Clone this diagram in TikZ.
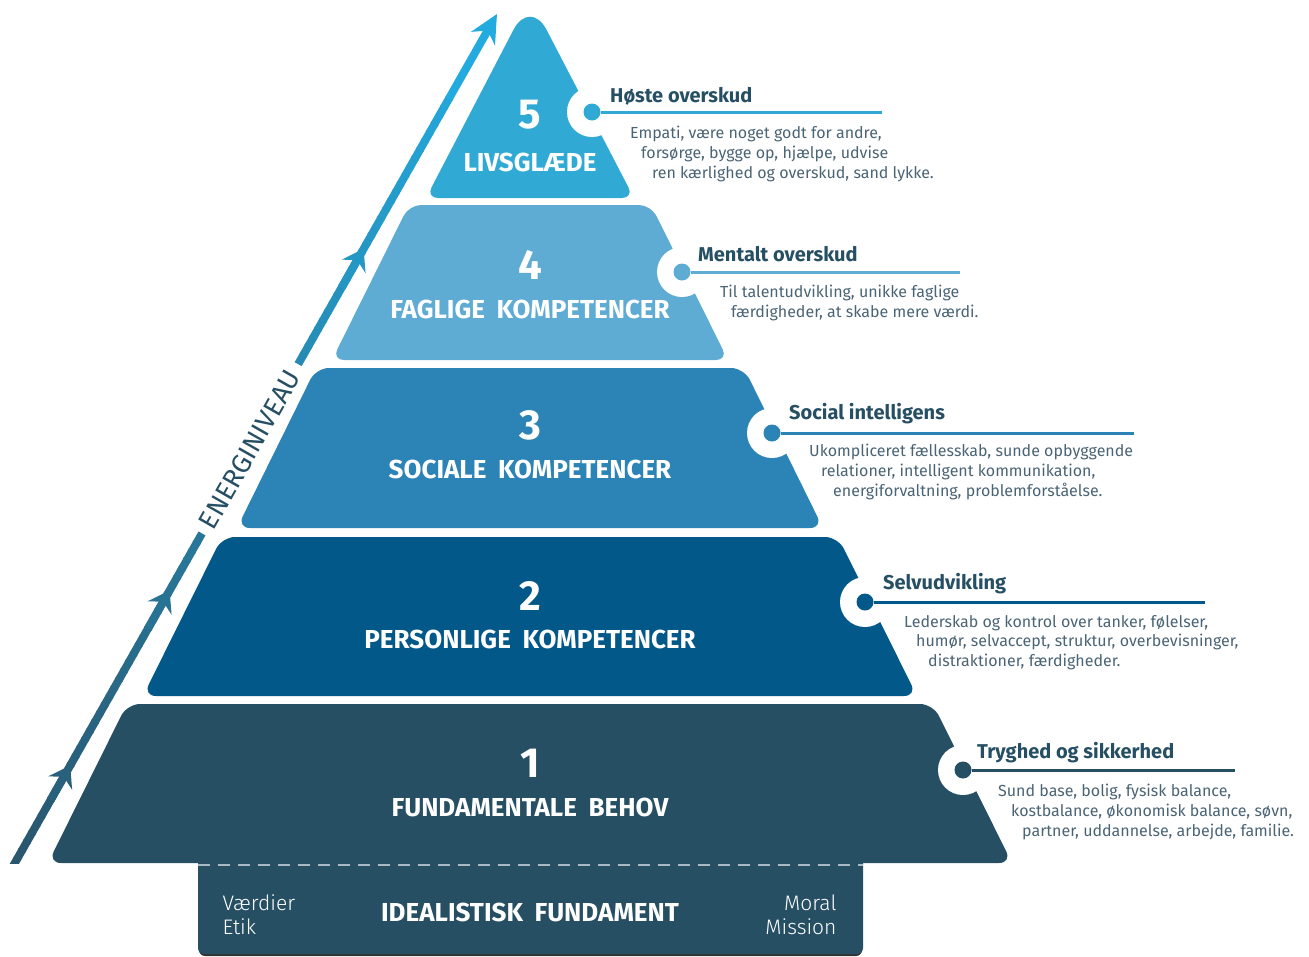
\documentclass[tikz,border=0pt]{standalone}
\usepackage{fontspec}
\setmainfont[FakeStretch=1.0]{Fira Sans}
\newfontfamily\headfont[FakeStretch=1.0,WordSpace=1.9]{Fira Sans}
\newfontfamily\energyfont{Fira Sans}
\newfontfamily\thinfont[FakeStretch=1.0]{Fira Sans Light}
\usetikzlibrary{arrows.meta,calc}

\definecolor{lvone}{HTML}{264F64}
\definecolor{lvtwo}{HTML}{03588A}
\definecolor{lvthree}{HTML}{2C83B5}
\definecolor{lvfour}{HTML}{5EABD3}
\definecolor{lvfive}{HTML}{31A9D5}
\definecolor{titletext}{HTML}{264F64}
\definecolor{desctext}{HTML}{4A6475}
\definecolor{arrowbot}{HTML}{2A566E}
\definecolor{arrowtop}{HTML}{23B0E6}
\definecolor{energytext}{HTML}{264F64}
\definecolor{dashgray}{HTML}{A9BAC4}

\tikzset{
  numlabel/.style={text=white, font=\headfont\bfseries\fontsize{42}{42}\selectfont},
  layerlabel/.style={text=white, font=\headfont\bfseries\fontsize{26}{26}\selectfont},
  titlelabel/.style={anchor=west, inner sep=0pt, text=titletext, font=\bfseries\fontsize{20}{20}\selectfont},
  desclabel/.style={anchor=north west, align=left, inner sep=0pt, text=desctext, font=\fontsize{16}{19.7}\selectfont},
  dotnode/.style={circle, inner sep=0pt, minimum size=17pt}
}

\begin{document}
\begin{tikzpicture}[x=1pt,y=-1pt]
  \useasboundingbox (0,0) rectangle (1309,956);

  % foundation
  \fill[black!80, rounded corners=6pt] (199,840) rectangle (862,956);
  \fill[lvone, rounded corners=6pt] (198,840) rectangle (863,954);

  % pyramid levels
  \fill[lvone, rounded corners=13pt] (530,863) -- (1012,863) -- (933,704) -- (127,704) -- (48,863) -- cycle;
  \fill[lvtwo, rounded corners=13pt] (530,696) -- (917,696) -- (838,537) -- (222,537) -- (143,696) -- cycle;
  \fill[lvthree, rounded corners=13pt] (530,528) -- (823,528) -- (744,368) -- (316,368) -- (237,528) -- cycle;
  \fill[lvfour, rounded corners=12pt] (530,360) -- (728,360) -- (651,205) -- (409,205) -- (332,360) -- cycle;
  \fill[lvfive] (530,198) [rounded corners=12pt] -- (634,198) [rounded corners=36pt] -- (530,-2) [rounded corners=12pt] -- (426,198) -- cycle;

  \coordinate (f1) at (198,865);
  \coordinate (f2) at (863,865);
  \draw[dashgray, line width=2pt, dash pattern=on 12pt off 8pt] (f1) -- (f2);

  % notches
  \fill[white] (592,112) circle (25);
  \fill[white] (682,272) circle (25);
  \fill[white] (772,433) circle (25);
  \fill[white] (865,602) circle (25);
  \fill[white] (963,770) circle (25);

  \node[dotnode, fill=lvfive]  (d5) at (592,112) {};
  \node[dotnode, fill=lvfour]  (d4) at (682,272) {};
  \node[dotnode, fill=lvthree] (d3) at (772,433) {};
  \node[dotnode, fill=lvtwo]   (d2) at (865,602) {};
  \node[dotnode, fill=lvone]   (d1) at (963,770) {};

  \coordinate (e5) at (882,112);
  \coordinate (e4) at (960,272);
  \coordinate (e3) at (1134,433);
  \coordinate (e2) at (1205,602);
  \coordinate (e1) at (1235,770);

  \begin{scope}[line width=3pt]
    \draw[lvfive]  (d5) -- (e5);
    \draw[lvfour]  (d4) -- (e4);
    \draw[lvthree] (d3) -- (e3);
    \draw[lvtwo]   (d2) -- (e2);
    \draw[lvone]   (d1) -- (e1);
  \end{scope}

  % level labels
  \node[numlabel]   (n5) at (530,115) {5};
  \node[layerlabel] (l5) at (530,162) {LIVSGLÆDE};
  \node[numlabel]   (n4) at (530,265) {4};
  \node[layerlabel] (l4) at (530,309) {FAGLIGE KOMPETENCER};
  \node[numlabel]   (n3) at (530,425) {3};
  \node[layerlabel] (l3) at (530,469) {SOCIALE KOMPETENCER};
  \node[numlabel]   (n2) at (530,596) {2};
  \node[layerlabel] (l2) at (530,639) {PERSONLIGE KOMPETENCER};
  \node[numlabel]   (n1) at (530,763) {1};
  \node[layerlabel] (l1) at (530,807) {FUNDAMENTALE BEHOV};

  \node[layerlabel] (l0) at (530,912) {IDEALISTISK FUNDAMENT};
  \begin{scope}[every node/.style={text=white, font=\thinfont\fontsize{21}{24}\selectfont}]
    \node[anchor=west, align=left]  (v0) at (219,915) {Værdier\\Etik};
    \node[anchor=east, align=right] (m0) at (840,915) {Moral\\Mission};
  \end{scope}

  % titles and texts
  \node[titlelabel] (h5) at (610,96)  {Høste overskud};
  \node[titlelabel] (h4) at (698,254) {Mentalt overskud};
  \node[titlelabel] (h3) at (789,414) {Social intelligens};
  \node[titlelabel] (h2) at (883,584) {Selvudvikling};
  \node[titlelabel] (h1) at (977,753) {Tryghed og sikkerhed};

  \node[desclabel] (t5) at (630,126) {Empati, være noget godt for andre,\\
    \hspace*{11pt}forsørge, bygge op, hjælpe, udvise\\
    \hspace*{22pt}ren kærlighed og overskud, sand lykke.};
  \node[desclabel] (t4) at (720,285) {Til talentudvikling, unikke faglige\\
    \hspace*{11pt}færdigheder, at skabe mere værdi.};
  \node[desclabel] (t3) at (809,444) {Ukompliceret fællesskab, sunde opbyggende\\
    \hspace*{12pt}relationer, intelligent kommunikation,\\
    \hspace*{24pt}energiforvaltning, problemforståelse.};
  \node[desclabel] (t2) at (904,615) {Lederskab og kontrol over tanker, følelser,\\
    \hspace*{12pt}humør, selvaccept, struktur, overbevisninger,\\
    \hspace*{24pt}distraktioner, færdigheder.};
  \node[desclabel] (t1) at (998,784) {Sund base, bolig, fysisk balance,\\
    \hspace*{13pt}kostbalance, økonomisk balance, søvn,\\
    \hspace*{24pt}partner, uddannelse, arbejde, familie.};

  % energy arrow
  \coordinate (a0) at (12,868);
  \coordinate (a1) at (497,14);
  \begin{scope}
    \clip (0,0) rectangle (1309,863);
    \foreach \t in {0,0.01,...,0.38} {
      \pgfmathtruncatemacro\p{100*\t}
      \draw[arrowtop!\p!arrowbot, line width=8pt] ($(a0)!\t!(a1)$) -- ($(a0)!\t+0.012!(a1)$);
    }
    \foreach \t in {0.59,0.60,...,0.9} {
      \pgfmathtruncatemacro\p{100*\t}
      \draw[arrowtop!\p!arrowbot, line width=8pt] ($(a0)!\t!(a1)$) -- ($(a0)!\t+0.012!(a1)$);
    }
  \end{scope}
  \draw[arrowtop!93!arrowbot, line width=8pt, -{Stealth[length=28pt,width=27pt,inset=9pt]}] ($(a0)!0.9!(a1)$) -- (a1);
  \draw[arrowtop!12!arrowbot, line width=8pt, -{Stealth[length=20pt,width=27pt,inset=7pt]}] ($(a0)!0.08!(a1)$) -- ($(a0)!0.12!(a1)$);
  \draw[arrowtop!32!arrowbot, line width=8pt, -{Stealth[length=20pt,width=27pt,inset=7pt]}] ($(a0)!0.28!(a1)$) -- ($(a0)!0.325!(a1)$);
  \draw[arrowtop!72!arrowbot, line width=8pt, -{Stealth[length=20pt,width=27pt,inset=7pt]}] ($(a0)!0.68!(a1)$) -- ($(a0)!0.725!(a1)$);

  \node[rotate=60.35, text=energytext, font=\energyfont\fontsize{27}{27}\selectfont] (en) at ($(a0)!0.49!(a1)$) {ENERGINIVEAU};

\end{tikzpicture}
\end{document}
